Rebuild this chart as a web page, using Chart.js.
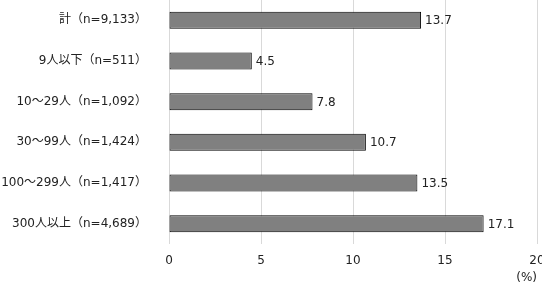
<!DOCTYPE html>
<html>
<head>
<meta charset="utf-8">
<script src="https://cdn.jsdelivr.net/npm/chart.js@4"></script>
<style>
	html, body { margin: 0; padding: 0; background: #fff; }
	#wrap { width: 542px; height: 284px; }
</style>
</head>
<body>
<div id="wrap"><canvas id="graph1" width="542" height="284"></canvas></div>
<script>
// dati del grafico
var categories = ["計（n=9,133）", "9人以下（n=511）", "10～29人（n=1,092）", "30～99人（n=1,424）", "100～299人（n=1,417）", "300人以上（n=4,689）"];
var values = [13.7, 4.5, 7.8, 10.7, 13.5, 17.1];
var xTicks = [0, 5, 10, 15, 20];
var unitLabel = "(%)";

var FONT = "'DejaVu Sans', 'Noto Sans CJK JP', sans-serif";

// etichette valore a destra delle barre + unità in basso a destra
var labelPlugin = {
	id: "labels",
	afterDatasetsDraw: function(chart) {
		var ctx = chart.ctx;
		var meta = chart.getDatasetMeta(0);
		ctx.save();
		ctx.font = "12px " + FONT;
		ctx.fillStyle = "#222";
		ctx.textBaseline = "middle";
		ctx.textAlign = "left";
		meta.data.forEach(function(bar, i) {
			ctx.fillText(values[i].toFixed(1), bar.x + 4, bar.y + 1);
		});
		ctx.textAlign = "right";
		ctx.fillText(unitLabel, chart.chartArea.right, 278);
		ctx.restore();
	}
};

var ctx = document.getElementById("graph1").getContext("2d");
var chart = new Chart(ctx, {
	type: "bar",
	data: {
		labels: categories,
		datasets: [{
			data: values,
			backgroundColor: "#808080",
			borderColor: "#000",
			borderWidth: 1,
			borderSkipped: false,
			barPercentage: 0.42,
			categoryPercentage: 1
		}]
	},
	options: {
		indexAxis: "y",
		responsive: false,
		animation: false,
		layout: { padding: { top: 0, right: 5, left: 0, bottom: 0 } },
		plugins: {
			legend: { display: false },
			tooltip: { enabled: false }
		},
		scales: {
			x: {
				min: 0,
				max: 20,
				afterBuildTicks: function(scale) {
					scale.ticks = xTicks.map(function(v) { return { value: v }; });
				},
				afterFit: function(scale) {
					scale.height = 40;
					scale.paddingRight = 0;
					scale.paddingLeft = 0;
				},
				grid: { color: "#d9d9d9", lineWidth: 1, drawTicks: false },
				border: { display: false },
				ticks: {
					padding: 10,
					color: "#222",
					font: { size: 12, family: FONT }
				}
			},
			y: {
				afterFit: function(scale) {
					scale.width = 169;
					scale.paddingTop = 0;
					scale.paddingBottom = 0;
				},
				grid: { display: false },
				border: { display: false },
				ticks: {
					padding: 14,
					color: "#222",
					font: { size: 12, family: FONT }
				}
			}
		}
	},
	plugins: [labelPlugin]
});
</script>
</body>
</html>
